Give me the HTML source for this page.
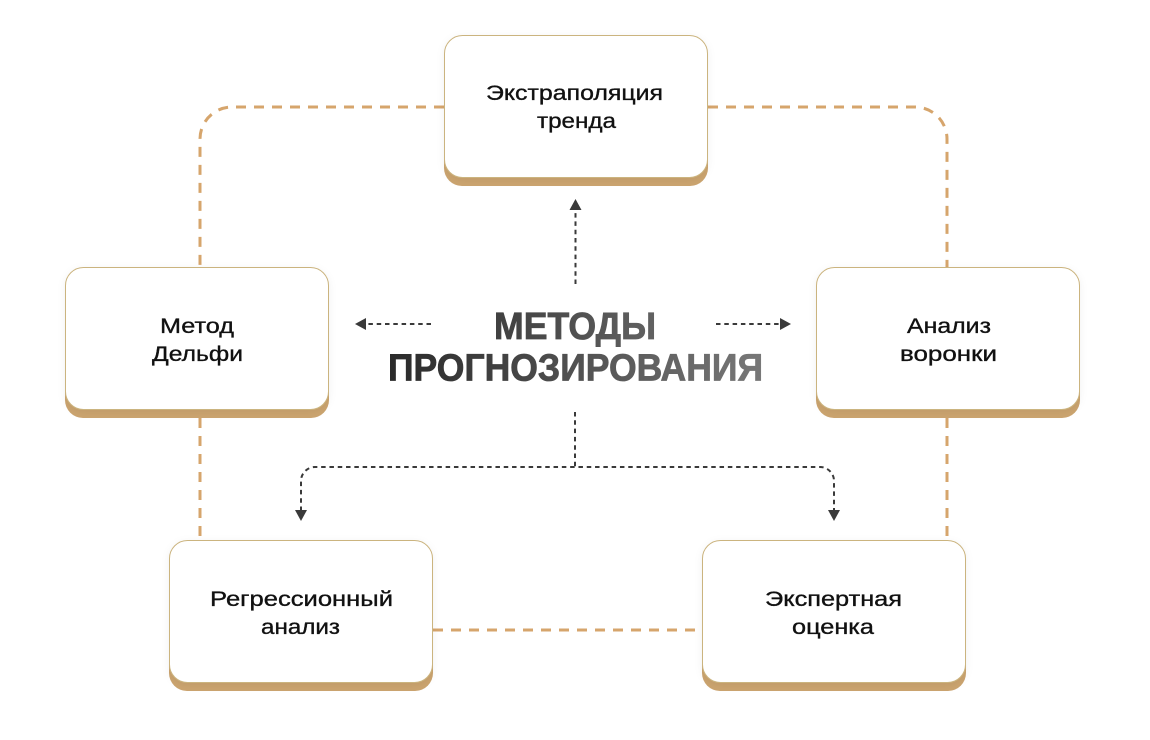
<!DOCTYPE html>
<html>
<head>
<meta charset="utf-8">
<style>
  html, body { margin:0; padding:0; background:#fff; }
  body { width:1150px; height:740px; overflow:hidden; }
  svg { display:block; }
  .lbl { font-family:"Liberation Sans", "DejaVu Sans", sans-serif; font-size:21px; fill:#111; stroke:#111; stroke-width:0.35px; }
  .ttl { font-family:"Liberation Sans", "DejaVu Sans", sans-serif; font-size:38px; font-weight:bold; }
</style>
</head>
<body>
<svg width="1150" height="740" viewBox="0 0 1150 740" xmlns="http://www.w3.org/2000/svg">
  <defs>
    <linearGradient id="tg" gradientUnits="userSpaceOnUse" x1="388" y1="0" x2="763" y2="0">
      <stop offset="0" stop-color="#2a2a2a"/>
      <stop offset="1" stop-color="#787878"/>
    </linearGradient>
    <filter id="sh" x="-10%" y="-10%" width="120%" height="130%">
      <feDropShadow dx="0" dy="2" stdDeviation="4" flood-color="#000" flood-opacity="0.06"/>
    </filter>
  </defs>

  <!-- gold dashed connectors -->
  <g fill="none" stroke="#d6a56c" stroke-width="3" stroke-dasharray="10 8">
    <path d="M444,107 H232 A32,32 0 0 0 200,139 V267"/>
    <path d="M708,107 H915 A32,32 0 0 1 947,139 V267"/>
    <path d="M200,418 V540"/>
    <path d="M947,418 V540"/>
    <path d="M433,630 H702"/>
  </g>

  <!-- dark dotted arrows -->
  <g fill="none" stroke="#3a3a3a" stroke-width="2" stroke-dasharray="4.5 3.8">
    <path d="M575.5,284 V209"/>
    <path d="M431,324 H364"/>
    <path d="M716,324 H782"/>
    <path d="M575,412 V467"/>
    <path d="M301,511 V481 A14,14 0 0 1 315,467 H820 A14,14 0 0 1 834,481 V511"/>
  </g>
  <g fill="#3a3a3a">
    <polygon points="575.5,199 569.5,210 581.5,210"/>
    <polygon points="355,324 366,318 366,330"/>
    <polygon points="791,324 780,318 780,330"/>
    <polygon points="301,521 295,510 307,510"/>
    <polygon points="834,521 828,510 840,510"/>
  </g>

  <!-- boxes -->
  <g>
    <rect x="444" y="43" width="264" height="143" rx="18" fill="#cba46f"/>
    <rect x="444.5" y="35.5" width="263" height="142" rx="18" fill="#fff" stroke="#cbb47f" stroke-width="1" filter="url(#sh)"/>
    <rect x="65" y="275" width="264" height="143" rx="18" fill="#cba46f"/>
    <rect x="65.5" y="267.5" width="263" height="142" rx="18" fill="#fff" stroke="#cbb47f" stroke-width="1" filter="url(#sh)"/>
    <rect x="816" y="275" width="264" height="143" rx="18" fill="#cba46f"/>
    <rect x="816.5" y="267.5" width="263" height="142" rx="18" fill="#fff" stroke="#cbb47f" stroke-width="1" filter="url(#sh)"/>
    <rect x="169" y="548" width="264" height="143" rx="18" fill="#cba46f"/>
    <rect x="169.5" y="540.5" width="263" height="142" rx="18" fill="#fff" stroke="#cbb47f" stroke-width="1" filter="url(#sh)"/>
    <rect x="702" y="548" width="264" height="143" rx="18" fill="#cba46f"/>
    <rect x="702.5" y="540.5" width="263" height="142" rx="18" fill="#fff" stroke="#cbb47f" stroke-width="1" filter="url(#sh)"/>
  </g>

  <!-- labels -->
  <g class="lbl">
    <text x="486" y="100" textLength="177" lengthAdjust="spacingAndGlyphs">Экстраполяция</text>
    <text x="537" y="128" textLength="79" lengthAdjust="spacingAndGlyphs">тренда</text>

    <text x="160" y="333" textLength="74" lengthAdjust="spacingAndGlyphs">Метод</text>
    <text x="152" y="361" textLength="91" lengthAdjust="spacingAndGlyphs">Дельфи</text>

    <text x="907" y="333" textLength="84" lengthAdjust="spacingAndGlyphs">Анализ</text>
    <text x="900" y="361" textLength="97" lengthAdjust="spacingAndGlyphs">воронки</text>

    <text x="210" y="606" textLength="183" lengthAdjust="spacingAndGlyphs">Регрессионный</text>
    <text x="261" y="634" textLength="79" lengthAdjust="spacingAndGlyphs">анализ</text>

    <text x="765" y="606" textLength="137" lengthAdjust="spacingAndGlyphs">Экспертная</text>
    <text x="792" y="634" textLength="82" lengthAdjust="spacingAndGlyphs">оценка</text>
  </g>

  <!-- title -->
  <g class="ttl" fill="url(#tg)" stroke="url(#tg)" stroke-width="0.8">
    <text x="494" y="339" textLength="162" lengthAdjust="spacingAndGlyphs">МЕТОДЫ</text>
    <text x="388" y="380.5" textLength="375" lengthAdjust="spacingAndGlyphs">ПРОГНОЗИРОВАНИЯ</text>
  </g>
</svg>
</body>
</html>
